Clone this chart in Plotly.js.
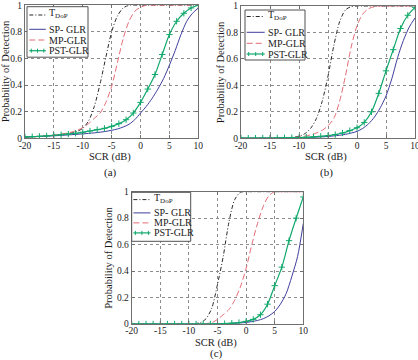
<!DOCTYPE html>
<html>
<head>
<meta charset="utf-8">
<script src="https://cdn.plot.ly/plotly-3.0.1.min.js"></script>
<style>
  html, body { margin: 0; padding: 0; background: #fff; }
  #chart { width: 418px; height: 360px; }
</style>
</head>
<body>
<div id="chart"></div>
<script>
// ---- data: probability of detection vs SCR (dB) ----
const scr = [-20,-19,-18,-17,-16,-15,-14,-13,-12,-11,-10,-9,-8,-7,-6,-5,-4,-3,-2,-1,0,1,2,3,4,5,6,7,8,9,10];
const scrPst = [-20,-18.75,-17.5,-16.25,-15,-13.75,-12.5,-11.25,-10,-8.75,-7.5,-6.25,-5,-3.75,-2.5,-1.25,0,1.25,2.5,3.75,5,6.25,7.5,8.75,10];

// panel (a)
const tdopA = [0.01,0.011,0.013,0.015,0.018,0.022,0.027,0.033,0.04,0.052,0.075,0.13,0.24,0.41,0.61,0.8,0.92,0.98,1,1,1,1,1,1,1,1,1,1,1,1,1];
const mpA   = [0.01,0.012,0.014,0.017,0.02,0.025,0.03,0.037,0.046,0.06,0.08,0.11,0.15,0.19,0.27,0.39,0.57,0.75,0.88,0.955,0.985,1,1,1,1,1,1,1,1,1,1];
const spA   = [0.01,0.011,0.013,0.015,0.017,0.019,0.021,0.024,0.027,0.03,0.033,0.037,0.041,0.046,0.052,0.06,0.07,0.085,0.105,0.14,0.19,0.24,0.3,0.37,0.45,0.55,0.66,0.78,0.88,0.94,0.98];
const pstA  = [0.01,0.012,0.015,0.018,0.022,0.027,0.032,0.038,0.045,0.055,0.065,0.075,0.09,0.11,0.14,0.19,0.27,0.37,0.48,0.63,0.78,0.88,0.94,0.98,1];

// panel (b)
const tdopB = [0,0,0,0.001,0.001,0.001,0.002,0.003,0.005,0.008,0.015,0.035,0.075,0.15,0.28,0.47,0.7,0.88,0.97,0.995,1,1,1,1,1,1,1,1,1,1,1];
const mpB   = [0,0,0,0.001,0.001,0.002,0.002,0.003,0.004,0.006,0.01,0.016,0.026,0.04,0.06,0.095,0.15,0.28,0.47,0.69,0.85,0.94,0.98,0.995,1,1,1,1,1,1,1];
const spB   = [0.001,0.001,0.001,0.001,0.002,0.002,0.002,0.003,0.003,0.004,0.005,0.006,0.007,0.009,0.011,0.014,0.018,0.023,0.03,0.04,0.052,0.075,0.11,0.16,0.23,0.32,0.45,0.61,0.74,0.84,0.91];
const pstB  = [0.001,0.001,0.001,0.002,0.002,0.003,0.004,0.005,0.006,0.008,0.011,0.015,0.02,0.028,0.04,0.058,0.08,0.12,0.2,0.34,0.51,0.67,0.83,0.93,0.99];

// panel (c)
const tdopC = [0,0,0,0,0,0,0,0,0,0,0.001,0.003,0.01,0.04,0.12,0.3,0.51,0.77,0.94,0.995,1,1,1,1,1,1,1,1,1,1,1];
const mpC   = [0,0,0,0,0,0,0,0,0,0,0,0,0,0.003,0.01,0.035,0.07,0.11,0.18,0.28,0.42,0.6,0.76,0.89,0.97,1,1,1,1,1,1];
const spC   = [0,0,0,0,0,0,0,0,0,0,0,0,0,0,0,0.001,0.002,0.003,0.005,0.008,0.012,0.018,0.027,0.04,0.062,0.095,0.15,0.23,0.36,0.51,0.76];
const pstC  = [0,0,0,0,0,0,0,0,0,0,0,0,0.001,0.003,0.006,0.011,0.02,0.035,0.07,0.15,0.29,0.43,0.63,0.8,0.96];

// tick values and labels
const xTicks = [-20, -15, -10, -5, 0, 5, 10];
const xTickText = ['-20', '-15', '-10', '-5', '0', '5', '10'];
const yTicks = [0, 0.2, 0.4, 0.6, 0.8, 1];
const yTickText = ['0', '0.2', '0.4', '0.6', '0.8', '1'];

const seriesNames = ['T<sub>DoP</sub>', 'SP- GLR', 'MP-GLR', 'PST-GLR'];
const panelLabels = ['(a)', '(b)', '(c)'];
const xTitle = 'SCR (dB)';
const yTitle = 'Probability of Detection';

// ---- styling ----
const W = 418, H = 360;
const FONT = 'Liberation Serif, Times New Roman, serif';
const TXT = '#1a1a1a';
const styles = [
  { color: '#2a2a2a', dash: '4px,2px,1px,2px', width: 1 },
  { color: '#3e3e9c', dash: 'solid', width: 1 },
  { color: '#e46b76', dash: '6px,3px', width: 1 },
  { color: '#10a86c', dash: 'solid', width: 1.2 }
];

const px = v => v / W;
const py = v => 1 - v / H;

// plot boxes in pixels: left, right, top, bottom
const boxes = [
  { l: 25, r: 198.3, t: 5.3, b: 138.3 },
  { l: 241, r: 415, t: 6, b: 138.3 },
  { l: 131.7, r: 303.3, t: 191.7, b: 324 }
];
// axis-title and caption anchors in pixels
const titlePos = [
  { yx: 5.5, xx: 110, xy: 157, cy: 172 },
  { yx: 220, xx: 326, xy: 157, cy: 172 },
  { yx: 109, xx: 216.5, xy: 342.5, cy: 353.5 }
];

const panels = [
  [tdopA, spA, mpA, pstA],
  [tdopB, spB, mpB, pstB],
  [tdopC, spC, mpC, pstC]
];

const traces = [];
panels.forEach((set, i) => {
  const xa = i === 0 ? 'x' : 'x' + (i + 1);
  const ya = i === 0 ? 'y' : 'y' + (i + 1);
  set.forEach((vals, k) => {
    const st = styles[k];
    const isPst = k === 3;
    const tr = {
      type: 'scatter',
      mode: isPst ? 'lines+markers' : 'lines',
      x: isPst ? scrPst : scr,
      y: vals,
      xaxis: xa, yaxis: ya,
      name: seriesNames[k],
      showlegend: false,
      line: { color: st.color, dash: st.dash, width: st.width, shape: 'spline', smoothing: 0.8 },
      hoverinfo: 'skip'
    };
    if (isPst) tr.marker = { symbol: 'cross-thin', size: 4.5, color: st.color, line: { color: st.color, width: 1 } };
    traces.push(tr);
  });
});

function axisCommon() {
  return {
    showline: true, mirror: 'ticks', linecolor: '#707070', linewidth: 1,
    ticks: 'inside', ticklen: 3, tickcolor: '#707070',
    showgrid: true, gridcolor: '#8c8c8c', griddash: '3px,3px', gridwidth: 1,
    zeroline: false, ticklabeloverflow: 'allow',
    tickfont: { family: FONT, size: 9.5, color: TXT },
    fixedrange: true
  };
}

const layout = {
  width: W, height: H,
  margin: { l: 0, r: 0, t: 0, b: 0 },
  paper_bgcolor: '#fff', plot_bgcolor: '#fff',
  font: { family: FONT, color: TXT },
  showlegend: false,
  shapes: [],
  annotations: []
};

boxes.forEach((bx, i) => {
  const sfx = i === 0 ? '' : String(i + 1);
  layout['xaxis' + sfx] = Object.assign(axisCommon(), {
    domain: [px(bx.l), px(bx.r)],
    range: [-20, 10], tickmode: 'array', tickvals: xTicks, ticktext: xTickText,
    ticklabelstandoff: -2,
    anchor: 'y' + sfx
  });
  layout['yaxis' + sfx] = Object.assign(axisCommon(), {
    domain: [py(bx.b), py(bx.t)],
    range: [0, 1], tickmode: 'array', tickvals: yTicks, ticktext: yTickText,
    anchor: 'x' + sfx
  });

  // axis titles and panel caption
  const tp = titlePos[i];
  layout.annotations.push({
    xref: 'paper', yref: 'paper', x: px(tp.yx), y: py((bx.t + bx.b) / 2),
    text: yTitle, textangle: -90, showarrow: false,
    font: { family: FONT, size: 10.5, color: TXT },
    xanchor: 'center', yanchor: 'middle'
  });
  layout.annotations.push({
    xref: 'paper', yref: 'paper', x: px(tp.xx), y: py(tp.xy),
    text: xTitle, showarrow: false,
    font: { family: FONT, size: 10.5, color: TXT },
    xanchor: 'center', yanchor: 'middle'
  });
  layout.annotations.push({
    xref: 'paper', yref: 'paper', x: px(tp.xx), y: py(tp.cy),
    text: panelLabels[i], showarrow: false,
    font: { family: FONT, size: 11, color: TXT },
    xanchor: 'center', yanchor: 'middle'
  });
});

// boxed legend inside each panel
const legendSpecs = [
  { l: 27, t: 6.7, w: 61, h: 50.5, rows: [8.3, 22.6, 33.3, 44], line0: 2.3, lineLen: 16.5 },
  { l: 245, t: 10, w: 60, h: 50, rows: [6.5, 22.3, 33.3, 44], line0: 1.7, lineLen: 18 },
  { l: 131.7, t: 192.3, w: 59, h: 49, rows: [7.3, 20.6, 30.6, 40.6], line0: 1.7, lineLen: 17 }
];

legendSpecs.forEach(lg => {
  layout.shapes.push({
    type: 'rect', xref: 'paper', yref: 'paper', layer: 'above',
    x0: px(lg.l), x1: px(lg.l + lg.w), y0: py(lg.t), y1: py(lg.t + lg.h),
    line: { color: '#505050', width: 1 }, fillcolor: '#fff'
  });
  lg.rows.forEach((dy, k) => {
    const st = styles[k];
    const yy = lg.t + dy;
    const xs = lg.l + lg.line0, xe = xs + lg.lineLen;
    layout.shapes.push({
      type: 'line', xref: 'paper', yref: 'paper', layer: 'above',
      x0: px(xs), x1: px(xe), y0: py(yy), y1: py(yy),
      line: { color: st.color, width: st.width, dash: st.dash }
    });
    if (k === 3) {
      [xs + 2, (xs + xe) / 2, xe - 2].forEach(cx => {
        layout.shapes.push({ type: 'line', xref: 'paper', yref: 'paper', layer: 'above',
          x0: px(cx), x1: px(cx), y0: py(yy - 2), y1: py(yy + 2),
          line: { color: st.color, width: 1 } });
      });
    }
    layout.annotations.push({
      xref: 'paper', yref: 'paper', x: px(xe + 1.2), y: py(k === 0 ? yy - 1 : yy),
      text: seriesNames[k], showarrow: false,
      font: { family: FONT, size: 10, color: TXT },
      xanchor: 'left', yanchor: 'middle'
    });
  });
});

Plotly.newPlot('chart', traces, layout, { staticPlot: true, displayModeBar: false });
</script>
</body>
</html>
